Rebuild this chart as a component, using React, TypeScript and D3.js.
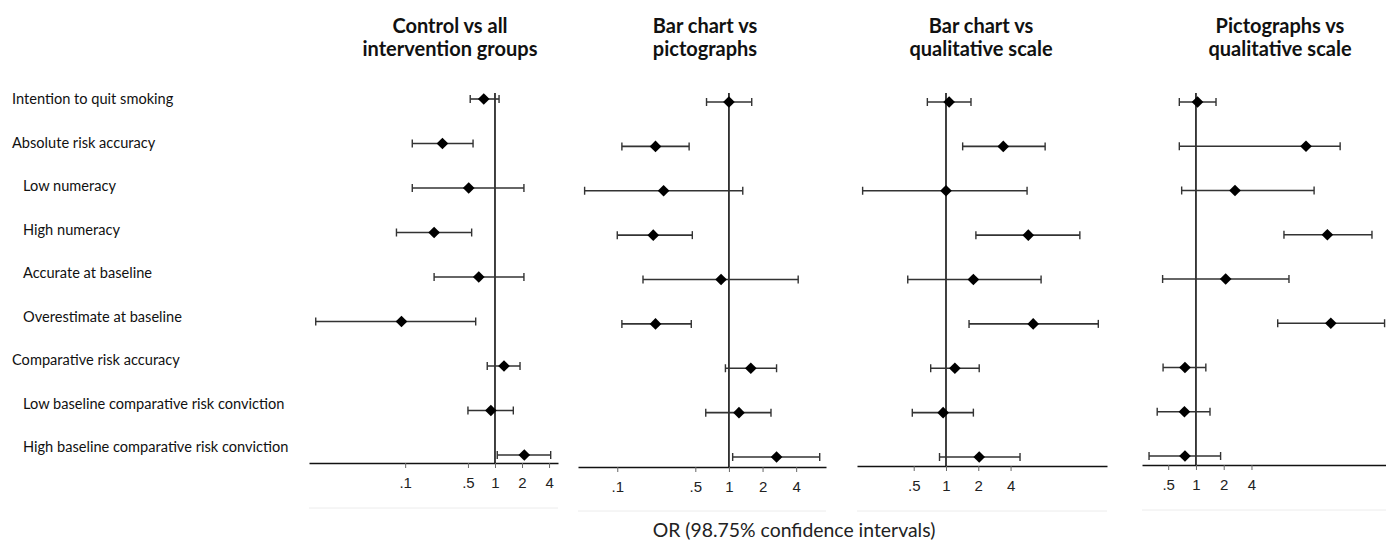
import * as d3 from "d3";
import { useEffect, useRef } from "react";

// outcome rows, top to bottom
const rowLabels = [
  "Intention to quit smoking",
  "Absolute risk accuracy",
  "Low numeracy",
  "High numeracy",
  "Accurate at baseline",
  "Overestimate at baseline",
  "Comparative risk accuracy",
  "Low baseline comparative risk conviction",
  "High baseline comparative risk conviction",
];
const rowIndented = [false, false, true, true, true, true, false, true, true];

// odds ratios + 98.75% CI
const controlOR = [0.75, 0.26, 0.51, 0.21, 0.66, 0.091, 1.26, 0.9, 2.12];
const controlLo = [0.53, 0.12, 0.12, 0.08, 0.21, 0.0101, 0.82, 0.5, 1.06];
const controlHi = [1.11, 0.57, 2.1, 0.55, 2.1, 0.61, 1.9, 1.6, 4.17];

const barPicOR = [1.0, 0.22, 0.26, 0.21, 0.85, 0.22, 1.57, 1.23, 2.67];
const barPicLo = [0.63, 0.11, 0.051, 0.1, 0.17, 0.11, 0.93, 0.62, 1.08];
const barPicHi = [1.6, 0.44, 1.33, 0.47, 4.17, 0.46, 2.67, 2.38, 6.5];

const barQualOR = [1.07, 3.42, 1.0, 5.85, 1.8, 6.5, 1.21, 0.94, 2.04];
const barQualLo = [0.67, 1.43, 0.167, 1.9, 0.44, 1.64, 0.72, 0.485, 0.87];
const barQualHi = [1.71, 8.4, 5.7, 17.7, 7.7, 26.3, 2.04, 1.8, 4.9];

const picQualOR = [1.04, 15.6, 2.65, 26.6, 2.1, 29.0, 0.76, 0.75, 0.76];
const picQualLo = [0.66, 0.66, 0.7, 9.0, 0.435, 7.7, 0.44, 0.38, 0.31];
const picQualHi = [1.65, 36.6, 19.1, 81, 10.2, 111, 1.28, 1.42, 1.85];

const titles = [
  ["Control vs all", "intervention groups"],
  ["Bar chart vs", "pictographs"],
  ["Bar chart vs", "qualitative scale"],
  ["Pictographs vs", "qualitative scale"],
];
const ticksWide = [0.1, 0.5, 1, 2, 4];
const ticksNarrow = [0.5, 1, 2, 4];
const xTitle = "OR (98.75% confidence intervals)";

const panelData = [
  { or: controlOR, lo: controlLo, hi: controlHi, ticks: ticksWide },
  { or: barPicOR, lo: barPicLo, hi: barPicHi, ticks: ticksWide },
  { or: barQualOR, lo: barQualLo, hi: barQualHi, ticks: ticksNarrow },
  { or: picQualOR, lo: picQualLo, hi: picQualHi, ticks: ticksNarrow },
];

// where each panel sits (px)
const layout = [
  { domain: [0.0085, 5.03], x: [309, 558], rows: [99, 455], axisY: 463, sepY: 508, titleX: 450 },
  { domain: [0.0445, 7.4], x: [578, 826], rows: [102, 457], axisY: 467, sepY: 511, titleX: 705 },
  { domain: [0.148, 31.7], x: [857, 1107], rows: [102, 457], axisY: 466, sepY: 511, titleX: 981 },
  { domain: [0.26, 115], x: [1142, 1386], rows: [102, 456], axisY: 465, sepY: 510, titleX: 1280 },
];

const W = 1386;
const H = 545;
const FONT = "Lato, 'Open Sans', sans-serif";

function ForestPlot() {
  const ref = useRef<SVGSVGElement>(null);

  useEffect(() => {
    const svg = d3.select(ref.current);
    svg.selectAll("*").remove();

    // row labels
    const labelY = d3.scalePoint().domain(rowLabels).range([99, 447]);
    svg
      .append("g")
      .selectAll("text")
      .data(rowLabels)
      .enter()
      .append("text")
      .attr("x", (d, i) => (rowIndented[i] ? 23 : 12))
      .attr("y", (d) => labelY(d))
      .attr("dy", "0.35em")
      .attr("font-family", FONT)
      .attr("font-size", 14.6)
      .attr("fill", "#111")
      .text((d) => d);

    panelData.forEach((p, k) => {
      const lay = layout[k];
      const x = d3.scaleLog().domain(lay.domain).range(lay.x);
      const y = d3.scalePoint().domain(rowLabels).range(lay.rows);
      const g = svg.append("g");

      // title
      g.append("text")
        .attr("x", lay.titleX)
        .attr("text-anchor", "middle")
        .attr("font-family", FONT)
        .attr("font-weight", "bold")
        .attr("font-size", 20)
        .attr("fill", "#111")
        .selectAll("tspan")
        .data(titles[k])
        .enter()
        .append("tspan")
        .attr("x", lay.titleX)
        .attr("y", (d, i) => 33 + i * 23)
        .text((d) => d);

      // null line at OR = 1
      g.append("line")
        .attr("x1", x(1))
        .attr("x2", x(1))
        .attr("y1", 93)
        .attr("y2", lay.axisY)
        .attr("stroke", "#111")
        .attr("stroke-width", 1.6);

      // x axis
      const axis = d3
        .axisBottom(x)
        .tickValues(p.ticks)
        .tickFormat((d) => {
          const v = +d;
          return v < 1 ? String(v).replace(/^0/, "") : String(v);
        })
        .tickSize(5)
        .tickSizeOuter(0)
        .tickPadding(9);
      const ax = g.append("g").attr("transform", `translate(0,${lay.axisY})`).call(axis);
      ax.select(".domain").attr("stroke", "#111").attr("stroke-width", 1.6);
      ax.selectAll(".tick line").attr("stroke", "#666");
      ax.selectAll(".tick text")
        .attr("font-family", "'Liberation Sans', Arial, sans-serif")
        .attr("font-size", 15)
        .attr("fill", "#222");

      // light rule under the axis
      g.append("line")
        .attr("x1", lay.x[0])
        .attr("x2", lay.x[1])
        .attr("y1", lay.sepY)
        .attr("y2", lay.sepY)
        .attr("stroke", "#ececec")
        .attr("stroke-width", 1);

      const rows = rowLabels.map((r, i) => ({ r, or: p.or[i], lo: p.lo[i], hi: p.hi[i] }));

      // CI lines
      g.selectAll("line.ci")
        .data(rows)
        .enter()
        .append("line")
        .attr("class", "ci")
        .attr("x1", (d) => x(d.lo))
        .attr("x2", (d) => x(d.hi))
        .attr("y1", (d) => y(d.r))
        .attr("y2", (d) => y(d.r))
        .attr("stroke", "#333")
        .attr("stroke-width", 1.6);

      // caps
      ["lo", "hi"].forEach((end) => {
        g.selectAll(`line.cap-${end}`)
          .data(rows)
          .enter()
          .append("line")
          .attr("class", `cap-${end}`)
          .attr("x1", (d) => x(d[end]))
          .attr("x2", (d) => x(d[end]))
          .attr("y1", (d) => y(d.r) - 4)
          .attr("y2", (d) => y(d.r) + 4)
          .attr("stroke", "#333")
          .attr("stroke-width", 1.4);
      });

      // diamonds
      const diamond = d3.symbol().type(d3.symbolSquare).size(68);
      g.selectAll("path.pt")
        .data(rows)
        .enter()
        .append("path")
        .attr("class", "pt")
        .attr("d", diamond)
        .attr("transform", (d) => `translate(${x(d.or)},${y(d.r)}) rotate(45)`)
        .attr("fill", "#000");
    });

    svg
      .append("text")
      .attr("x", 794)
      .attr("y", 537)
      .attr("text-anchor", "middle")
      .attr("font-family", FONT)
      .attr("font-size", 19.4)
      .attr("fill", "#222")
      .text(xTitle);
  }, []);

  return <svg ref={ref} width={W} height={H} style={{ position: "absolute", left: 0, top: 0, background: "#fff" }}></svg>;
}

export default function App() {
  return <ForestPlot />;
}
